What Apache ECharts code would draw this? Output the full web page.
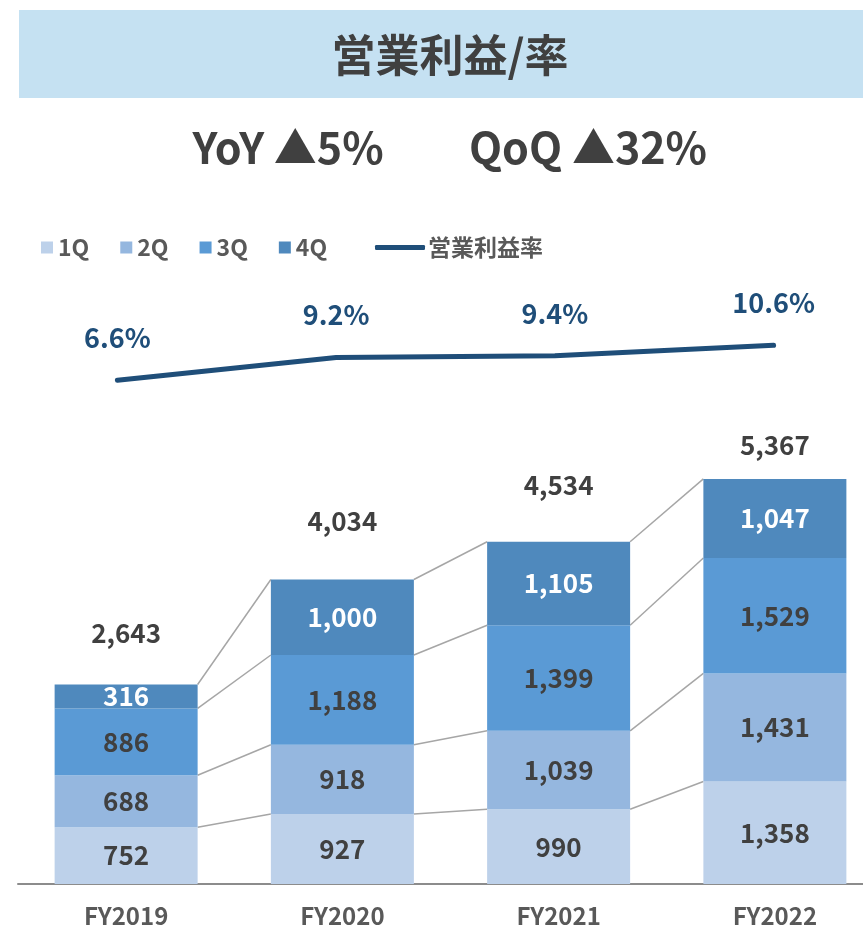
<!DOCTYPE html>
<html>
<head>
<meta charset="utf-8">
<script src="https://cdn.jsdelivr.net/npm/echarts@6.0.0/dist/echarts.min.js"></script>
<style>
  html, body { margin: 0; padding: 0; background: #fff; }
  #chart { width: 863px; height: 930px; }
</style>
</head>
<body>
<div id="chart"></div>
<script>
// data
const years = ['FY2019', 'FY2020', 'FY2021', 'FY2022'];
const q1 = [752, 927, 990, 1358];
const q2 = [688, 918, 1039, 1431];
const q3 = [886, 1188, 1399, 1529];
const q4 = [316, 1000, 1105, 1047];
const totals = [2643, 4034, 4534, 5367];
const marginRate = [6.6, 9.2, 9.4, 10.6];

const FONT = '"Noto Sans CJK JP", "Noto Sans", sans-serif';
const BAR_W = 143;
const quarterNames = ['1Q', '2Q', '3Q', '4Q'];
const quarterColors = ['#bdd1ea', '#95b7df', '#5a9ad5', '#4f89bd'];
const quarters = [q1, q2, q3, q4];

// cumulative tops for the connector lines
const cum = [];
quarters.forEach((arr, k) => {
    cum.push(arr.map((v, i) => v + (k ? cum[k - 1][i] : 0)));
});
const connectorData = [];
for (let i = 0; i < years.length - 1; i++) {
    for (let k = 0; k < 4; k++) {
        connectorData.push([i, cum[k][i], cum[k][i + 1]]);
    }
}

// total label offsets (excel placed them by hand)
const totalDist = [38, 45, 43, 20];

const fmt = (v) => Number(v).toLocaleString('en-US');

const chart = echarts.init(document.getElementById('chart'));

const barSeries = quarters.map((arr, k) => ({
    name: quarterNames[k],
    type: 'bar',
    stack: 'q',
    xAxisIndex: 0,
    yAxisIndex: 0,
    barWidth: BAR_W,
    data: arr,
    itemStyle: { color: quarterColors[k] },
    label: {
        show: true,
        position: 'inside',
        formatter: (p) => fmt(p.value),
        color: k === 3 ? '#ffffff' : '#404040',
        fontFamily: FONT,
        fontWeight: 'bold',
        fontSize: 26
    },
    z: 3
}));

chart.setOption({
    animation: false,
    graphic: [
        { type: 'rect', shape: { x: 19, y: 10, width: 844, height: 88 }, style: { fill: '#c5e1f2' } },
        {
            type: 'text', x: 450, y: 55,
            style: { text: '営業利益/率', fill: '#404040', font: 'bold 44px ' + FONT, textAlign: 'center', textVerticalAlign: 'middle' }
        },
        {
            type: 'text', x: 288, y: 148,
            style: { text: 'YoY ▲5%', fill: '#404040', font: 'bold 43px ' + FONT, textAlign: 'center', textVerticalAlign: 'middle' }
        },
        {
            type: 'text', x: 588, y: 148,
            style: { text: 'QoQ ▲32%', fill: '#404040', font: 'bold 43px ' + FONT, textAlign: 'center', textVerticalAlign: 'middle' }
        }
    ],
    legend: [
        {
            data: quarterNames,
            left: 36, top: 231,
            icon: 'rect', itemWidth: 12, itemHeight: 12, itemGap: 31,
            textStyle: { color: '#595959', fontFamily: FONT, fontWeight: 'bold', fontSize: 23 }
        },
        {
            data: ['営業利益率'],
            left: 370, top: 231,
            icon: 'roundRect', itemWidth: 50, itemHeight: 5,
            itemStyle: { color: '#1f4e79' },
            textStyle: { color: '#595959', fontFamily: FONT, fontWeight: 'bold', fontSize: 23, padding: [0, 0, 0, -2] }
        }
    ],
    grid: [
        { left: 18, width: 865, top: 431, bottom: 46, outerBoundsMode: 'none' },
        { left: 8, width: 875, top: 333, bottom: 492, outerBoundsMode: 'none' }
    ],
    xAxis: [
        {
            type: 'category', gridIndex: 0, data: years,
            axisTick: { show: false },
            axisLine: { lineStyle: { color: '#8c8c8c', width: 2 } },
            axisLabel: { color: '#595959', fontFamily: '"Liberation Sans Narrow", ' + FONT, fontWeight: 'bold', fontSize: 24, margin: 20 }
        },
        { type: 'category', gridIndex: 1, data: years, show: false }
    ],
    yAxis: [
        { type: 'value', gridIndex: 0, min: 0, max: 6000, show: false, splitLine: { show: false } },
        { type: 'value', gridIndex: 1, min: 0, max: 12, show: false, splitLine: { show: false } }
    ],
    series: [
        {
            type: 'custom',
            xAxisIndex: 0, yAxisIndex: 0,
            data: connectorData,
            encode: { x: 0, y: [1, 2] },
            silent: true,
            z: 1,
            renderItem: (params, api) => {
                const i = api.value(0);
                const p1 = api.coord([i, api.value(1)]);
                const p2 = api.coord([i + 1, api.value(2)]);
                return {
                    type: 'line',
                    shape: { x1: p1[0] + BAR_W / 2, y1: p1[1], x2: p2[0] - BAR_W / 2, y2: p2[1] },
                    style: { stroke: '#a6a6a6', lineWidth: 1.5 }
                };
            }
        },
        ...barSeries,
        {
            name: 'total',
            type: 'line',
            xAxisIndex: 0, yAxisIndex: 0,
            data: totals.map((v, i) => ({ value: v, label: { distance: totalDist[i] } })),
            symbol: 'circle',
            symbolSize: 1,
            itemStyle: { color: 'rgba(0,0,0,0)' },
            lineStyle: { width: 0, color: 'rgba(0,0,0,0)' },
            silent: true,
            label: {
                show: true, position: 'top',
                formatter: (p) => fmt(p.value),
                color: '#404040', fontFamily: FONT, fontWeight: 'bold', fontSize: 26
            },
            z: 4
        },
        {
            name: '営業利益率',
            type: 'line',
            xAxisIndex: 1, yAxisIndex: 1,
            data: marginRate,
            symbol: 'circle',
            symbolSize: 2,
            lineStyle: { color: '#1f4e79', width: 5, cap: 'round' },
            itemStyle: { color: '#1f4e79' },
            label: {
                show: true, position: 'top', distance: 28,
                formatter: (p) => p.value.toFixed(1) + '%',
                color: '#1f4e79', fontFamily: FONT, fontWeight: 'bold', fontSize: 27
            },
            z: 5
        }
    ]
});

window.addEventListener('resize', () => chart.resize());
</script>
</body>
</html>
